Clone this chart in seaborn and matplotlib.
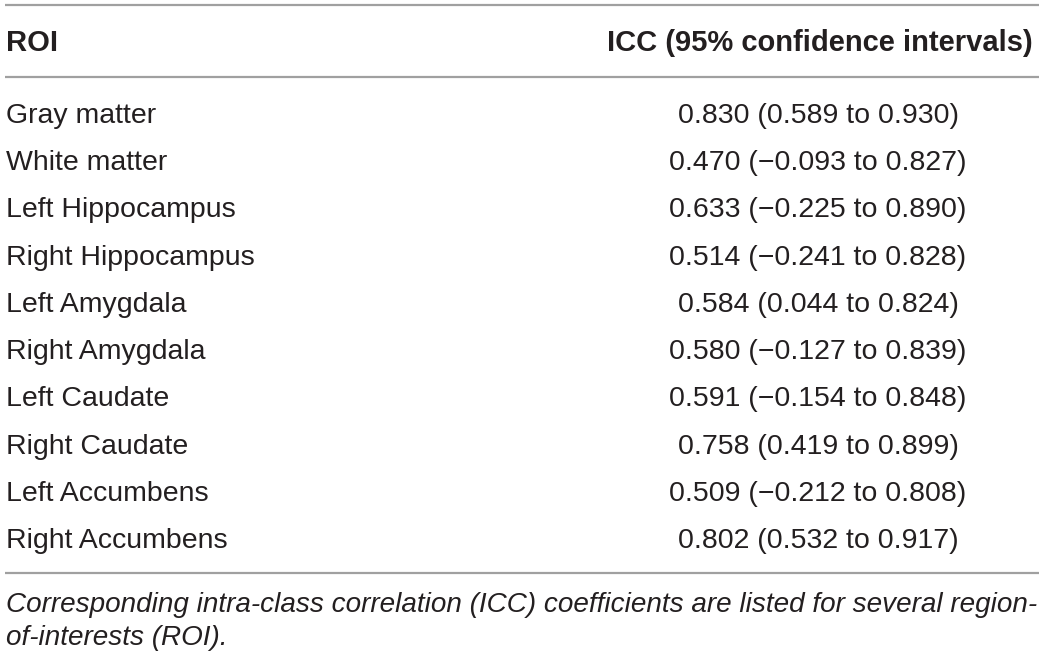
import matplotlib
matplotlib.use("Agg")
import matplotlib.pyplot as plt
import seaborn as sns

rois = ["Gray matter", "White matter", "Left Hippocampus", "Right Hippocampus",
        "Left Amygdala", "Right Amygdala", "Left Caudate", "Right Caudate",
        "Left Accumbens", "Right Accumbens"]
icc = [0.830, 0.470, 0.633, 0.514, 0.584, 0.580, 0.591, 0.758, 0.509, 0.802]
ci_low = [0.589, -0.093, -0.225, -0.241, 0.044, -0.127, -0.154, 0.419, -0.212, 0.532]
ci_high = [0.930, 0.827, 0.890, 0.828, 0.824, 0.839, 0.848, 0.899, 0.808, 0.917]
headers = ["ROI", "ICC (95% confidence intervals)"]
footnote = ["Corresponding intra-class correlation (ICC) coefficients are listed for several region-",
            "of-interests (ROI)."]


def fmt(v):
    s = f"{abs(v):.3f}"
    return ("\u2212" + s) if v < 0 else s


def main():
    sns.set_theme(style="white")
    plt.rcParams["font.family"] = ["Liberation Sans", "DejaVu Sans"]
    txt = "#231f20"
    line = "#a0a0a0"

    fig = plt.figure(figsize=(10.39, 6.60), dpi=100)
    ax = fig.add_axes([0, 0, 1, 1])
    ax.set_xlim(0, 1039)
    ax.set_ylim(660, 0)
    ax.axis("off")

    # rules
    for y in [5, 77, 573]:
        ax.plot([5, 1039], [y, y], color=line, lw=1.6, solid_capstyle="butt")

    ax.text(6, 51, headers[0], fontsize=21, fontweight="bold", color=txt, va="baseline", ha="left")
    ax.text(1033, 51, headers[1], fontsize=21, fontweight="bold", color=txt, va="baseline", ha="right")

    y0, dy = 123, 47.22
    for i, name in enumerate(rois):
        y = y0 + i * dy
        ax.text(6, y, name, fontsize=20.5, color=txt, va="baseline", ha="left")
        val = f"{icc[i]:.3f} ({fmt(ci_low[i])} to {fmt(ci_high[i])})"
        ax.text(818, y, val, fontsize=20.5, color=txt, va="baseline", ha="center")

    for j, ln in enumerate(footnote):
        ax.text(6, 612 + j * 33, ln, fontsize=20.1, style="italic", color=txt,
                va="baseline", ha="left")

    fig.savefig("out.png", dpi=100)


if __name__ == "__main__":
    main()
